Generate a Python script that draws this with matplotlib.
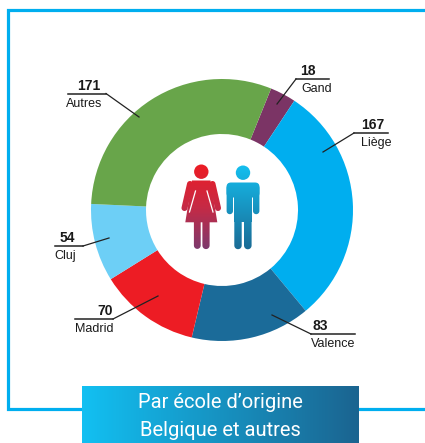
import numpy as np
import matplotlib
matplotlib.use("Agg")
import matplotlib.pyplot as plt
from matplotlib.colors import LinearSegmentedColormap
from matplotlib.patches import Polygon, Circle, FancyBboxPatch

# clockwise from the top right
schools = ["Gand", "Liège", "Valence", "Madrid", "Cluj", "Autres"]
counts = [18, 167, 83, 70, 54, 171]
colors = ["#7b3465", "#00aeef", "#1b6b99", "#ed1c24", "#6dcff6", "#68a54a"]

title_lines = ["Par école d’origine", "Belgique et autres"]

W, H = 425, 443
FRAME = "#00aeef"
NARROW = ["Liberation Sans Narrow", "Liberation Sans", "DejaVu Sans"]

fig = plt.figure(figsize=(W / 100, H / 100), dpi=100, facecolor="white")

# donut, placed in pixels
cx, cy, R = 222, 210, 131
ax = fig.add_axes([(cx - R) / W, 1 - (cy + R) / H, 2 * R / W, 2 * R / H])
ax.pie(counts, colors=colors, startangle=68, counterclock=False, radius=1,
       wedgeprops=dict(width=55 / 131, linewidth=0))
ax.set_xlim(-1, 1)
ax.set_ylim(-1, 1)

# overlay in image pixels for frame, labels and icons
px = fig.add_axes([0, 0, 1, 1], facecolor="none")
px.set_axis_off()

# frame, open on the right
px.plot([W, 8.5, 8.5, 82], [10, 10, 409, 409], color=FRAME, lw=2.3, solid_joinstyle="miter")
px.plot([359, W], [409, 409], color=FRAME, lw=2.3)

# title banner
banner = LinearSegmentedColormap.from_list("banner", ["#12c0f2", "#1b6490"])
px.imshow(np.linspace(0, 1, 256)[None, :], cmap=banner, extent=(82, 359, H, 386),
          aspect="auto", zorder=2)
px.text(220.5, 403, title_lines[0], color="white", fontsize=14.5, family="Roboto",
        ha="center", va="center", zorder=7)
px.text(220.5, 431, title_lines[1], color="white", fontsize=14.5, family="Roboto",
        ha="center", va="center", zorder=7)

# leader lines: (shelf start, shelf end, shelf y, tip x, tip y, elbow x)
leaders = {
    "Gand": (296, 329, 79, 277, 104, 296),
    "Liège": (354, 388, 133, 323, 152, 354),
    "Valence": (311, 355, 334, 272, 315, 311),
    "Madrid": (75, 113, 319, 158, 296, 113),
    "Cluj": (55, 83, 246, 109, 238, 83),
    "Autres": (68, 106, 93.5, 139, 117, 106),
}
num_pos = {"Gand": 308, "Liège": 373, "Valence": 320, "Madrid": 105, "Cluj": 67, "Autres": 89}
name_x = {"Gand": 301, "Liège": 361, "Valence": 311, "Madrid": 75, "Cluj": 54, "Autres": 66}

for name, n in zip(schools, counts):
    x0, x1, y, tx, ty, ex = leaders[name]
    px.plot([x0, x1], [y, y], color="#222222", lw=1.1, zorder=4)
    px.plot([ex, tx], [y, ty], color="#222222", lw=0.9, zorder=4)
    px.text(num_pos[name], y - 8, str(n), fontsize=10, fontweight="bold", family=NARROW,
            color="#1a1a1a", ha="center", va="center", zorder=4)
    px.text(name_x[name], y + 10, name, fontsize=9, family=NARROW,
            color="#1a1a1a", ha="left", va="center", zorder=4)


def capsule(x0, y0, x1, y1, w):
    a = np.arctan2(y1 - y0, x1 - x0)
    t = np.linspace(-np.pi / 2, np.pi / 2, 12)
    end = np.c_[x1 + w / 2 * np.cos(a + t), y1 + w / 2 * np.sin(a + t)]
    start = np.c_[x0 - w / 2 * np.cos(a + t), y0 - w / 2 * np.sin(a + t)]
    return Polygon(np.r_[end, start], closed=True)


def fill_gradient(parts, cmap, box):
    for part in parts:
        part.set(facecolor="none", edgecolor="none", transform=px.transData)
        px.add_patch(part)
        im = px.imshow(np.linspace(0, 1, 256)[:, None], cmap=cmap, extent=box, aspect="auto", zorder=5)
        im.set_clip_path(part)


woman = LinearSegmentedColormap.from_list("woman", ["#ed1c24", "#c62a45", "#7b3a6e"])
man = LinearSegmentedColormap.from_list("man", ["#14c0f0", "#1b6a94"])

woman_parts = [
    Circle((201.3, 171.7), 7.2),
    Polygon([(192, 180.5), (210.5, 180.5), (217.3, 222.3), (185.3, 222.3)]),
    capsule(190, 184, 184.5, 208, 6),
    capsule(212.5, 184, 218, 208, 6),
    capsule(197.3, 220, 197.3, 245.5, 6.8),
    capsule(206, 220, 206, 245.5, 7.2),
]
fill_gradient(woman_parts, woman, (180, 222, 250, 165))
px.plot([195.5, 189.5], [191, 212], color="white", lw=0.9, zorder=6)
px.plot([207, 213], [191, 212], color="white", lw=0.9, zorder=6)

man_parts = [
    Circle((243, 172.7), 7.2),
    FancyBboxPatch((231, 187), 24, 6, boxstyle="round,pad=4.5,rounding_size=4.5"),
    capsule(229.8, 188, 229.8, 211, 6.4),
    capsule(256.2, 188, 256.2, 211, 6.4),
    Polygon([(234.3, 186), (251.8, 186), (251.8, 222), (234.3, 222)]),
    capsule(238, 215, 238, 245.5, 7.4),
    capsule(247.8, 215, 247.8, 245.5, 7.6),
]
fill_gradient(man_parts, man, (224, 262, 250, 165))

px.set_xlim(0, W)
px.set_ylim(H, 0)

fig.savefig("out.png", dpi=100)
